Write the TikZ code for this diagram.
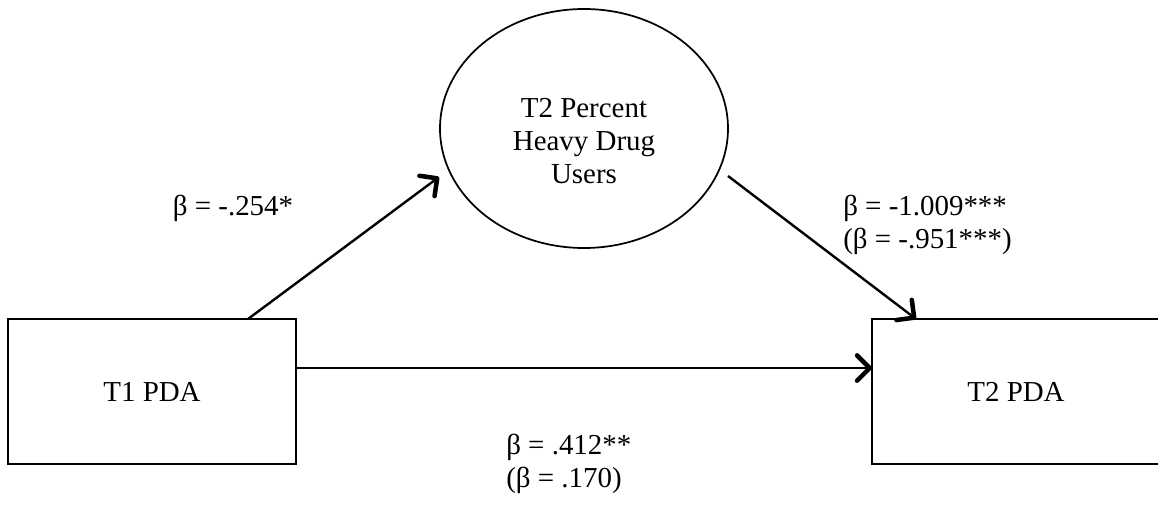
\documentclass[tikz,border=0pt]{standalone}
\usepackage{fontspec}
\setmainfont{Liberation Serif}
\usetikzlibrary{arrows.meta,shapes.geometric}
\begin{document}
\begin{tikzpicture}[x=0.75pt,y=-0.75pt,
  box/.style={draw,line width=1.9pt,minimum width=216pt,minimum height=108.75pt,inner sep=0pt,outer sep=0pt},
  oval/.style={draw,ellipse,line width=1.3pt,minimum width=216pt,minimum height=179.25pt,inner sep=0pt,outer sep=0pt},
  txt/.style={font=\fontsize{21.7}{24.5}\selectfont,inner sep=0pt},
  conn/.style={line width=1.8pt,-{Straight Barb[length=9.5pt,width=19pt,line width=3.4pt,round]}}]
\useasboundingbox (0,0) rectangle (1158,504);
\node[box,txt] (t1) at (152,391.5) {T1 PDA};
\node[box,txt] (t2) at (1016,391.5) {T2 PDA};
\node[oval] (mid) at (584,128.5) {};
\node[txt,align=center] (midtext) at (584,141) {T2 Percent\\Heavy Drug\\Users};
\node[txt,anchor=base] (l1) at (233,215) {β = -.254*};
\node[txt,align=left,anchor=base west] (l2) at (843,248) {β = -1.009***\\(β = -.951***)};
\node[txt,align=left,anchor=base west] (l3) at (506,487) {β = .412**\\(β = .170)};
\coordinate (a1e) at (439,177);
\coordinate (a2s) at (728,176);
\draw[conn] ([xshift=180pt]t1.north west) -- (a1e);
\draw[conn] (a2s) -- ([xshift=33pt]t2.north west);
\draw[conn] ([yshift=17.6pt]t1.east) -- ([yshift=17.6pt]t2.west);
\end{tikzpicture}
\end{document}
